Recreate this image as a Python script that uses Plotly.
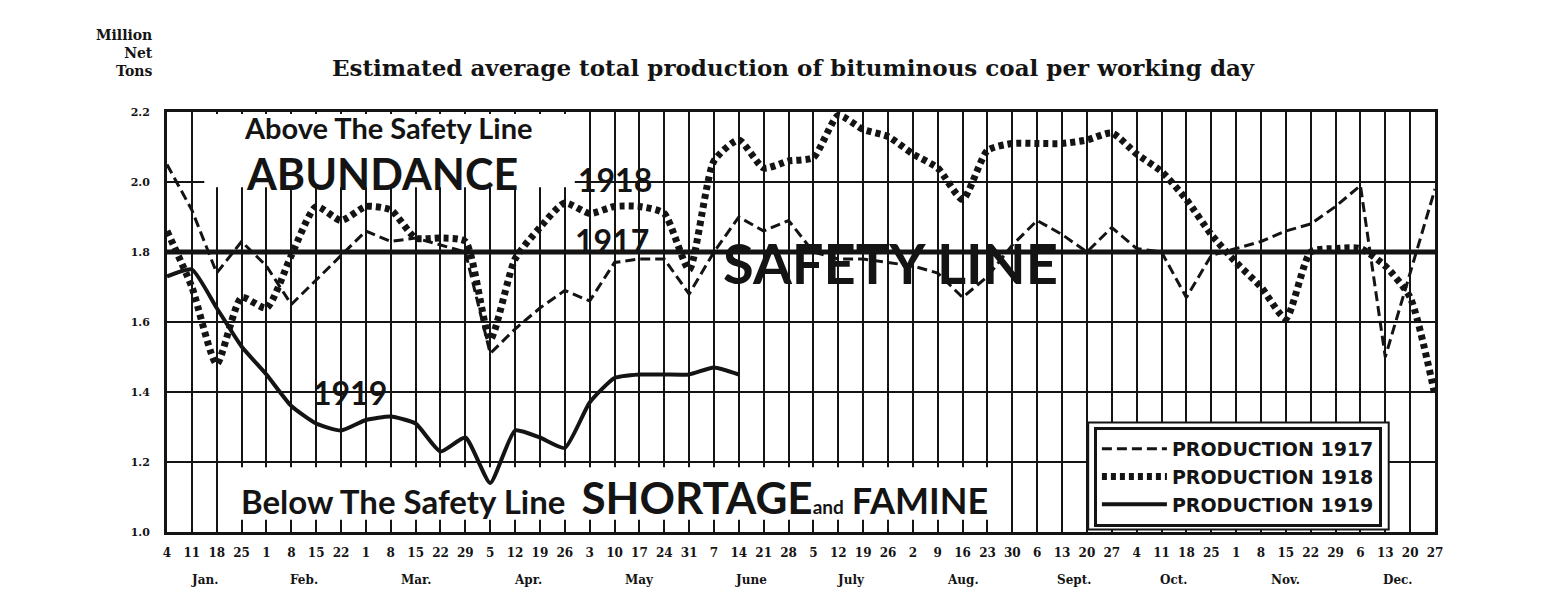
import plotly.graph_objects as go

# ---------------- data ----------------
TICK_DAYS = [4, 11, 18, 25, 1, 8, 15, 22, 1, 8, 15, 22, 29, 5, 12, 19, 26,
             3, 10, 17, 24, 31, 7, 14, 21, 28, 5, 12, 19, 26, 2, 9, 16, 23, 30,
             6, 13, 20, 27, 4, 11, 18, 25, 1, 8, 15, 22, 29, 6, 13, 20, 27]
MONTHS = ["Jan.", "Feb.", "Mar.", "Apr.", "May", "June", "July", "Aug.",
          "Sept.", "Oct.", "Nov.", "Dec."]
WEEKS_PER_MONTH = [4, 4, 5, 4, 5, 4, 4, 5, 4, 4, 5, 4]

P1917 = [2.05, 1.92, 1.74, 1.83, 1.76, 1.65, 1.72, 1.79, 1.86, 1.83, 1.84, 1.82,
         1.80, 1.51, 1.58, 1.64, 1.69, 1.66, 1.77, 1.78, 1.78, 1.68, 1.80, 1.90,
         1.86, 1.89, 1.80, 1.78, 1.78, 1.77, 1.76, 1.74, 1.67, 1.73, 1.82, 1.89,
         1.85, 1.80, 1.87, 1.81, 1.80, 1.67, 1.79, 1.81, 1.83, 1.86, 1.88, 1.93,
         1.99, 1.50, 1.74, 1.98]
P1918 = [1.86, 1.70, 1.48, 1.67, 1.64, 1.79, 1.93, 1.89, 1.93, 1.92, 1.84, 1.84,
         1.83, 1.55, 1.78, 1.87, 1.94, 1.91, 1.93, 1.93, 1.91, 1.75, 2.06, 2.12,
         2.04, 2.06, 2.07, 2.19, 2.15, 2.13, 2.08, 2.04, 1.95, 2.09, 2.11, 2.11,
         2.11, 2.12, 2.14, 2.08, 2.03, 1.95, 1.85, 1.77, 1.70, 1.61, 1.80, 1.81,
         1.81, 1.76, 1.67, 1.39]
P1919 = [1.73, 1.75, 1.64, 1.53, 1.45, 1.36, 1.31, 1.29, 1.32, 1.33, 1.31, 1.23,
         1.27, 1.14, 1.29, 1.27, 1.24, 1.37, 1.44, 1.45, 1.45, 1.45, 1.47, 1.45]
Y_TICKS = [1.0, 1.2, 1.4, 1.6, 1.8, 2.0, 2.2]
SAFETY_LINE = 1.8

INK = "#141414"
SERIF = "DejaVu Serif"
SANS = "Lato"

weeks = list(range(len(TICK_DAYS)))

fig = go.Figure()
fig.add_trace(go.Scatter(
    x=weeks, y=P1917, mode="lines", name="PRODUCTION 1917",
    line=dict(color=INK, width=3, dash="10px,5px")))
fig.add_trace(go.Scatter(
    x=weeks, y=P1918, mode="lines", name="PRODUCTION 1918",
    line=dict(color=INK, width=7, dash="5px,4px", shape="spline", smoothing=0.6)))
fig.add_trace(go.Scatter(
    x=weeks[:len(P1919)], y=P1919, mode="lines", name="PRODUCTION 1919",
    line=dict(color=INK, width=4, shape="spline", smoothing=0.5)))

# safety line
fig.add_shape(type="line", xref="paper", x0=0, x1=1, yref="y",
              y0=SAFETY_LINE, y1=SAFETY_LINE, line=dict(color=INK, width=5),
              layer="between")

# white panels behind the captions
fig.add_shape(type="rect", xref="x", yref="y", x0=1.5, x1=16.4, y0=1.985, y1=2.194,
              fillcolor="white", line=dict(width=0), layer="between")
fig.add_shape(type="rect", xref="x", yref="y", x0=2.95, x1=33.3, y0=1.035, y1=1.185,
              fillcolor="white", line=dict(width=0), layer="between")
# outer frame of the double-ruled legend box (legend itself is drawn on top)
fig.add_shape(type="rect", xref="paper", yref="paper", x0=0.7265, x1=0.9635,
              y0=0.006, y1=0.261, fillcolor="white",
              line=dict(color=INK, width=2), layer="above")


def txt(x, y, text, size, family=SANS, xref="x", yref="y", **kw):
    d = dict(x=x, y=y, xref=xref, yref=yref, text=text, showarrow=False,
             xanchor="center", yanchor="middle",
             font=dict(family=family, size=size, color=INK, weight="bold"))
    d.update(kw)
    return d


ann = []
start = 0
for m, n in zip(MONTHS, WEEKS_PER_MONTH):
    ann.append(txt(start + (n - 1) / 2, -0.114, m, 12, SERIF, yref="paper"))
    start += n

ann.append(txt(-0.0095, 1.14, "Million<br>Net<br>Tons", 14, SERIF,
               xref="paper", yref="paper", xanchor="right", align="right"))
ann.append(txt(0.494, 1.105,
               "Estimated average total production of bituminous coal per working day",
               23, SERIF, xref="paper", yref="paper"))
ann.append(txt(8.9, 2.155, "Above The Safety Line", 29))
ann.append(txt(8.65, 2.025, "ABUNDANCE", 43))
ann.append(txt(18.0, 2.006, "1918", 32))
ann.append(txt(17.9, 1.834, "1917", 32))
ann.append(txt(7.36, 1.40, "1919", 32))
ann.append(txt(29.1, 1.77, "SAFETY LINE", 56))
ann.append(txt(18.0, 1.10,
               "Below The Safety Line  <span style='font-size:44px'>SHORTAGE</span>"
               "<span style='font-size:19px'>and</span> "
               "<span style='font-size:36px'>FAMINE</span>", 33))

fig.update_layout(
    width=1544, height=605,
    margin=dict(l=159, r=117, t=104, b=81),
    paper_bgcolor="white", plot_bgcolor="white",
    annotations=ann,
    showlegend=True,
    legend=dict(x=0.731, y=0.25, xanchor="left", yanchor="top",
                bgcolor="white", bordercolor=INK, borderwidth=3,
                font=dict(family="DejaVu Sans", size=19, color=INK, weight="bold"),
                itemwidth=65, tracegroupgap=0),
    xaxis=dict(range=[0, len(TICK_DAYS) - 1], tickmode="array", tickvals=weeks,
               ticktext=[str(d) for d in TICK_DAYS], showgrid=True, gridcolor=INK,
               gridwidth=2, zeroline=False, showline=True, mirror=True,
               linecolor=INK, linewidth=3, ticks="", ticklabelstandoff=8,
               tickfont=dict(family=SERIF, size=12, color=INK, weight="bold")),
    yaxis=dict(range=[Y_TICKS[0], Y_TICKS[-1]], tickmode="array", tickvals=Y_TICKS,
               ticktext=[f"{v:.1f}" for v in Y_TICKS], showgrid=True, gridcolor=INK,
               gridwidth=2, zeroline=False, showline=True, mirror=True,
               linecolor=INK, linewidth=3, ticks="", ticklabelstandoff=12,
               tickfont=dict(family=SERIF, size=11, color=INK, weight="bold")),
)

fig.write_html("out.html")
